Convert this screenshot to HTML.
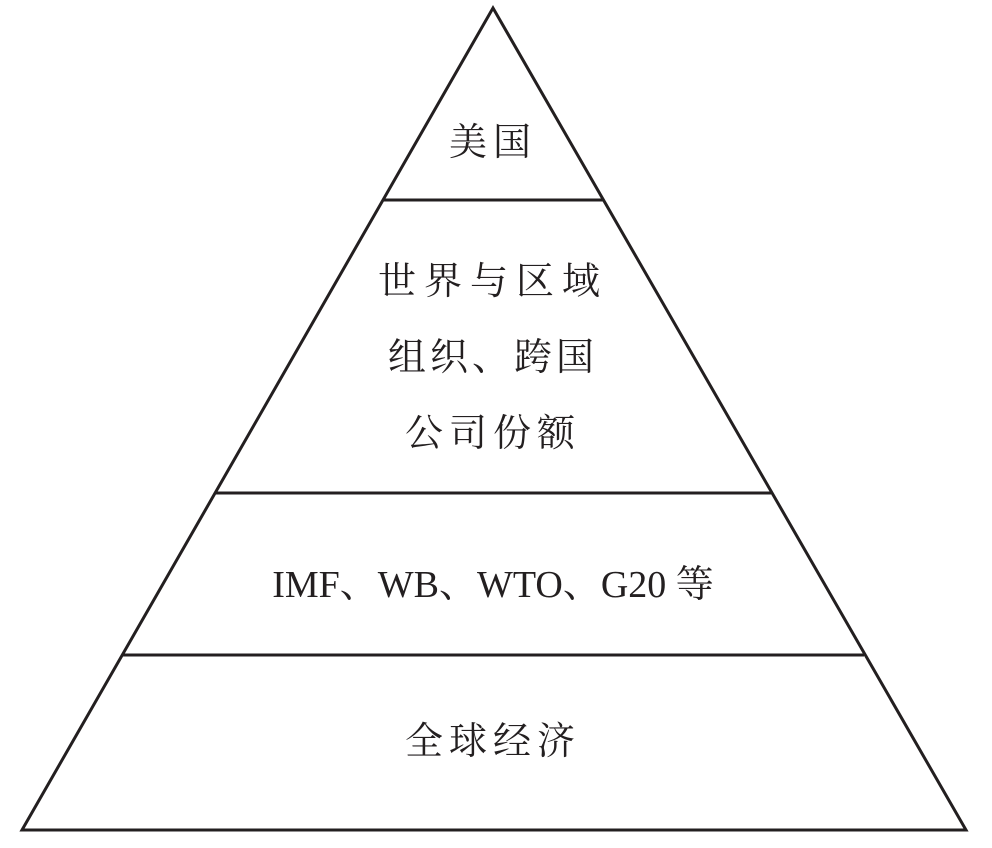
<!DOCTYPE html>
<html><head><meta charset="utf-8"><style>
html,body{margin:0;padding:0;background:#fff;}
svg{display:block;}
text{font-family:"Liberation Serif","Noto Serif CJK SC",serif;font-size:38px;fill:#231f20;text-anchor:middle;}
</style></head><body>
<svg width="992" height="848" viewBox="0 0 992 848">
<polygon points="493,8 22,830 966,830" fill="none" stroke="#231f20" stroke-width="3"/>
<line x1="383" y1="200" x2="604" y2="200" stroke="#231f20" stroke-width="3"/>
<line x1="216" y1="493" x2="771" y2="493" stroke="#231f20" stroke-width="3"/>
<line x1="123" y1="655" x2="864" y2="655" stroke="#231f20" stroke-width="3"/>
<text x="493" y="155" letter-spacing="6">美国</text>
<text x="493" y="294" letter-spacing="8">世界与区域</text>
<text x="493" y="370" letter-spacing="4">组织、跨国</text>
<text x="493" y="446" letter-spacing="6">公司份额</text>
<text x="493" y="597">IMF、WB、WTO、G20 等</text>
<text x="493" y="754" letter-spacing="6">全球经济</text>
</svg>
</body></html>
